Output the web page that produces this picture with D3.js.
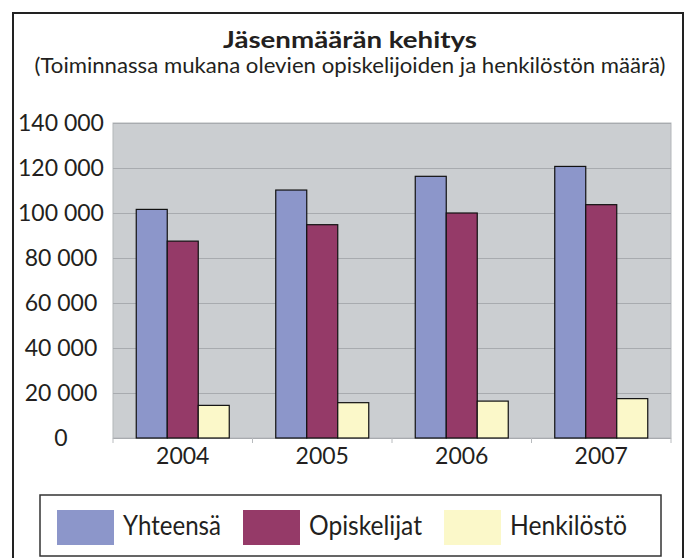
<!DOCTYPE html>
<html>
<head>
<meta charset="utf-8">
<script src="https://cdn.jsdelivr.net/npm/d3@7"></script>
<style>
  html, body { margin: 0; padding: 0; background: #fff; }
  svg { display: block; font-family: Lato, "Open Sans", sans-serif; }
</style>
</head>
<body>
<svg id="chart" width="691" height="558"></svg>
<script>
// --- data ---
const years = ["2004", "2005", "2006", "2007"];
const seriesNames = ["Yhteensä", "Opiskelijat", "Henkilöstö"];
const yhteensa = [101600, 110200, 116300, 120700];
const opiskelijat = [87500, 94800, 100000, 103700];
const henkilosto = [14500, 15700, 16400, 17500];
const yTicks = [0, 20000, 40000, 60000, 80000, 100000, 120000, 140000];
const colors = ["#8c96ca", "#953a68", "#fbf8c9"];

const seriesValues = [yhteensa, opiskelijat, henkilosto];
const rows = years.map((yr, i) => ({
  year: yr,
  values: seriesNames.map((s, j) => ({ key: s, value: seriesValues[j][i], color: colors[j] }))
}));

const svg = d3.select("#chart");
const plot = { left: 113, right: 671, top: 123, bottom: 438 };

// outer frame
svg.append("rect")
  .attr("x", 13).attr("y", 13).attr("width", 670).attr("height", 560)
  .attr("fill", "none").attr("stroke", "#222").attr("stroke-width", 2);

// titles
svg.append("text")
  .attr("x", 350).attr("y", 48).attr("text-anchor", "middle")
  .attr("font-size", 22).attr("font-weight", 700).attr("fill", "#231f20")
  .attr("textLength", 254).attr("lengthAdjust", "spacingAndGlyphs")
  .text("Jäsenmäärän kehitys");

svg.append("text")
  .attr("x", 350).attr("y", 73).attr("text-anchor", "middle")
  .attr("font-size", 21).attr("fill", "#231f20")
  .attr("textLength", 631).attr("lengthAdjust", "spacingAndGlyphs")
  .text("(Toiminnassa mukana olevien opiskelijoiden ja henkilöstön määrä)");

// scales
const x0 = d3.scaleBand().domain(years).range([plot.left, plot.right])
  .paddingInner(1 / 3).paddingOuter(1 / 6);
const x1 = d3.scaleBand().domain(seriesNames).range([0, x0.bandwidth()]);
const y = d3.scaleLinear().domain([0, 140000]).range([plot.bottom, plot.top]);

// plot background
svg.append("rect")
  .attr("x", plot.left).attr("y", plot.top)
  .attr("width", plot.right - plot.left).attr("height", plot.bottom - plot.top)
  .attr("fill", "#cbced1").attr("stroke", "#b4b7ba").attr("stroke-width", 1);

// gridlines
svg.append("g").selectAll("line").data(yTicks.slice(1)).enter().append("line")
  .attr("x1", plot.left).attr("x2", plot.right)
  .attr("y1", d => y(d) + 0.5).attr("y2", d => y(d) + 0.5)
  .attr("stroke", "#a8abaf").attr("stroke-width", 1);

// y labels
svg.append("g").selectAll("text").data(yTicks).enter().append("text")
  .attr("x", 61).attr("y", d => y(d)).attr("dy", "0.36em")
  .attr("text-anchor", "middle").attr("font-size", 23).attr("fill", "#231f20")
  .text(d => d3.format(",")(d).replace(/,/g, " "));

// x axis line and ticks
const xAxis = svg.append("g").attr("transform", `translate(0,${plot.bottom})`);
xAxis.append("line").attr("x1", plot.left).attr("x2", plot.right)
  .attr("y1", 0.5).attr("y2", 0.5).attr("stroke", "#a8abaf");
const boundaries = years.map(yr => x0(yr) - x0.step() * x0.paddingInner() / 2)
  .concat([plot.right]);
boundaries[0] = plot.left;
xAxis.selectAll("line.tick").data(boundaries).enter().append("line")
  .attr("class", "tick")
  .attr("x1", d => d).attr("x2", d => d).attr("y1", 0).attr("y2", 5)
  .attr("stroke", "#b8bbbe");
xAxis.selectAll("text").data(years).enter().append("text")
  .attr("x", d => x0(d) + x0.bandwidth() / 2).attr("y", 26)
  .attr("text-anchor", "middle").attr("font-size", 23).attr("fill", "#231f20")
  .text(d => d);

// bars
const groups = svg.append("g").selectAll("g").data(rows).enter().append("g")
  .attr("transform", d => `translate(${x0(d.year)},0)`);
groups.selectAll("rect").data(d => d.values).enter().append("rect")
  .attr("x", d => x1(d.key)).attr("width", x1.bandwidth())
  .attr("y", d => y(d.value)).attr("height", d => plot.bottom - y(d.value))
  .attr("fill", d => d.color).attr("stroke", "#111").attr("stroke-width", 1.2);

// legend
svg.append("rect")
  .attr("x", 40).attr("y", 495).attr("width", 621).attr("height", 61)
  .attr("fill", "#fff").attr("stroke", "#333").attr("stroke-width", 1.5);

const legendText = [98, 113, 117];
let lx = 57;
seriesNames.forEach((name, i) => {
  svg.append("rect").attr("x", lx).attr("y", 510).attr("width", 57).attr("height", 35)
    .attr("fill", colors[i]);
  const tx = lx + 57 + 9;
  svg.append("text").attr("x", tx).attr("y", 535)
    .attr("font-size", 26).attr("fill", "#231f20")
    .attr("textLength", legendText[i]).attr("lengthAdjust", "spacingAndGlyphs")
    .text(name);
  lx = tx + legendText[i] + 22;
});
</script>
</body>
</html>
